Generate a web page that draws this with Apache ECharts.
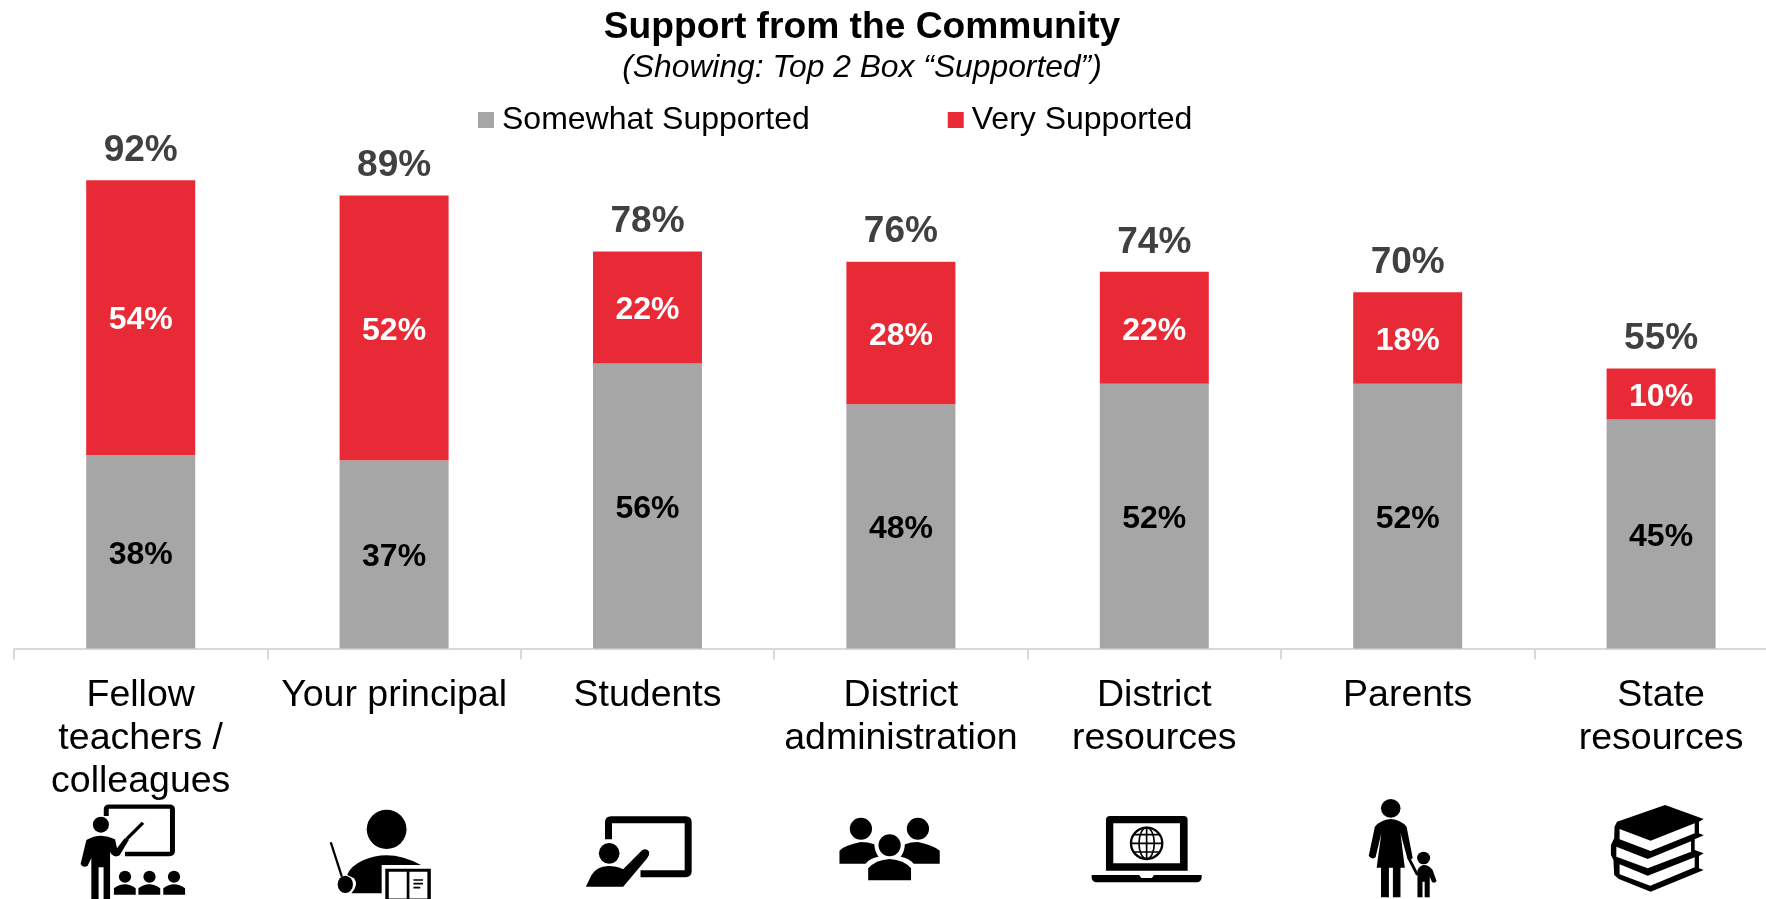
<!DOCTYPE html>
<html>
<head>
<meta charset="utf-8">
<title>Support from the Community</title>
<script src="https://cdn.jsdelivr.net/npm/echarts@6/dist/echarts.min.js"></script>
<style>
  html, body { margin: 0; padding: 0; background: #fff; overflow: hidden; }
  #chart { width: 1766px; height: 899px; }
</style>
</head>
<body>
<div id="chart"></div>
<script>
const categories = ['Fellow\nteachers /\ncolleagues', 'Your principal', 'Students', 'District\nadministration', 'District\nresources', 'Parents', 'State\nresources'];
const somewhatSupported = [38, 37, 56, 48, 52, 52, 45];
const verySupported = [54, 52, 22, 28, 22, 18, 10];
const topTwoBox = [92, 89, 78, 76, 74, 70, 55];

const FONT = '"Liberation Sans", Arial, sans-serif';
const GREY = '#A6A6A6';
const RED = '#E82A36';

// Outline helpers for the pictograms under each category.
const ell = (cx, cy, rx, ry) =>
  `M${cx - rx},${cy} A${rx},${ry} 0 1 0 ${cx + rx},${cy} A${rx},${ry} 0 1 0 ${cx - rx},${cy} Z`;
const solid = d => ({ d, fill: '#000' });
const blank = d => ({ d, fill: '#fff' });
const line = (d, w) => ({ d, stroke: '#000', w });

// Each pictogram has its own drawing units: sx/sy per pixel, top at y, centred on its category at cx.
const pictograms = [
  { cx: 367, y: 780, sx: 2.613, sy: 3, parts: [
    line('M277,108 L277,88 Q277,80 285,80 L442,80 Q450,80 450,88 L450,214 Q450,222 442,222 L326,222', 13),
    solid(ell(263, 134, 21, 24)),
    solid('M225,180 Q262,155 300,178 L305,205 L325,175 L336,180 L312,226 Q300,234 290,222 L287,215 L287,357 L270,357 L270,262 L257,262 L257,357 L238,357 L238,235 L228,258 Q215,265 210,252 Z'),
    line('M330,178 L373,128', 9),
    solid(ell(326, 290, 16, 18)), solid(ell(390, 290, 16, 18)), solid(ell(454, 290, 16, 18)),
    solid('M297,344 L297,325 Q325,300 354,325 L354,344 Z'),
    solid('M361,344 L361,325 Q389,300 418,325 L418,344 Z'),
    solid('M426,344 L426,325 Q454,300 483,325 L483,344 Z')
  ]},
  { cx: 1029.5, y: 780, sx: 2.613, sy: 3, parts: [
    solid(ell(1010, 148, 52, 59)),
    solid('M907,285 Q915,258 950,240 Q1020,205 1100,255 L997,255 L997,340 L918,340 Q938,315 925,295 Z'),
    line('M864,187 L893,290', 6),
    solid(ell(902, 313, 20, 26)),
    line('M1011,271 L1121,271 L1121,360 L1011,360 Z', 9),
    line('M1066,271 L1066,360', 7),
    line('M1080,300 L1105,300 M1080,311 L1105,311 M1080,323 L1098,323', 5)
  ]},
  { cx: 233, y: 800, sx: 3, sy: 3, parts: [
    line('M116,118 L116,67 Q116,59 124,59 L347,59 Q355,59 355,67 L355,213 Q355,221 347,221 L212,221', 21),
    solid(ell(118, 160, 31, 31)),
    solid('M48,260 L65,225 Q80,200 115,198 Q140,198 160,208 L215,152 Q228,142 238,155 Q240,165 232,175 L160,260 Z')
  ]},
  { cx: 786.5, y: 780, sx: 2.613, sy: 3, parts: [
    solid(ell(682, 146, 29, 33)), solid(ell(831, 146, 29, 33)), solid(ell(757, 196, 29, 33)),
    solid('M626,251 L626,212 Q640,195 682,186 Q700,186 717,193 Q718,215 728,230 Q705,235 694,251 Z'),
    solid('M888,251 L888,212 Q870,195 831,186 Q812,186 797,193 Q796,215 786,230 Q808,235 820,251 Z'),
    solid('M701,301 L701,265 Q720,240 757,237 Q795,240 813,265 L813,301 Z')
  ]},
  { cx: 223, y: 800, sx: 3, sy: 3, parts: [
    solid('M78,212 L78,60 Q78,48 90,48 L311,48 Q323,48 323,60 L323,212 Z'),
    blank('M100,70 L300,70 L300,190 L100,190 Z'),
    solid('M35,225 L178,225 L184,234 L216,234 L222,225 L365,225 L365,235 Q362,247 350,247 L50,247 Q38,247 35,235 Z'),
    line(ell(200, 130, 47, 47), 7),
    line(ell(200, 130, 23, 47), 5),
    line('M200,83 L200,177 M153,130 L247,130 M162,104 L238,104 M162,156 L238,156', 5)
  ]},
  { cx: 576, y: 780, sx: 2.77, sy: 3, parts: [
    solid(ell(529, 85, 27, 28)),
    solid('M485,140 Q500,120 529,117 Q558,120 573,140 L590,235 Q585,240 575,235 L556,160 L568,263 L556,263 L556,352 L535,352 L535,263 L524,263 L524,352 L502,352 L502,263 L490,263 L503,160 L487,232 Q478,240 468,228 Z'),
    solid(ell(620, 234, 18, 19)),
    line('M578,232 L603,285', 8),
    solid('M603,270 Q610,256 620,255 Q635,255 645,270 L656,303 Q650,312 643,305 L637,290 L637,352 L623,352 L623,305 L617,305 L617,352 L603,352 Z')
  ]},
  { cx: 1277, y: 780, sx: 2.77, sy: 3, parts: [
    solid('M1155,125 L1288,75 L1395,117 L1382,125 L1382,160 L1395,166 L1370,178 L1370,210 L1395,220 L1382,228 L1382,265 L1395,270 L1248,335 L1160,297 L1147,285 L1145,240 L1138,225 L1138,195 L1147,175 L1148,140 Z'),
    blank('M1162,147 L1248,182 L1370,130 L1370,160 L1248,213 L1162,178 Z'),
    blank('M1153,200 L1240,237 L1360,184 L1360,215 L1240,265 L1153,230 Z'),
    blank('M1162,253 L1240,287 L1370,232 L1370,262 L1247,317 L1162,283 Z')
  ]}
];

const chart = echarts.init(document.getElementById('chart'), null, { renderer: 'canvas' });

const segmentLabel = color => ({
  show: true,
  position: 'inside',
  offset: [0, 3],
  formatter: '{c}%',
  color,
  fontFamily: FONT,
  fontSize: 32,
  fontWeight: 'bold'
});

chart.setOption({
  animation: false,
  backgroundColor: '#fff',
  title: {
    text: 'Support from the Community',
    subtext: '(Showing: Top 2 Box \u201cSupported\u201d)',
    left: 857,
    top: 2,
    textAlign: 'center',
    itemGap: 1,
    textStyle: { fontFamily: FONT, fontSize: 37.2, fontWeight: 'bold', color: '#000', lineHeight: 42 },
    subtextStyle: { fontFamily: FONT, fontSize: 31.8, fontStyle: 'italic', color: '#000', lineHeight: 36 }
  },
  legend: {
    data: ['Somewhat Supported', 'Very Supported'],
    left: 478,
    top: 102,
    padding: 0,
    icon: 'rect',
    itemWidth: 16,
    itemHeight: 16,
    itemGap: 138,
    textStyle: { fontFamily: FONT, fontSize: 32, color: '#000', lineHeight: 36, padding: [0, 0, 0, 3] }
  },
  grid: { left: 14, top: 139.5, width: 1773.8, height: 509, outerBoundsMode: 'none' },
  xAxis: {
    type: 'category',
    data: categories,
    axisLine: { lineStyle: { color: '#D9D9D9', width: 2 } },
    axisTick: { show: true, length: 11, lineStyle: { color: '#D9D9D9', width: 2 } },
    axisLabel: {
      interval: 0,
      margin: 26,
      fontFamily: FONT,
      fontSize: 37.5,
      lineHeight: 43,
      color: '#000',
      verticalAlign: 'top'
    }
  },
  yAxis: { type: 'value', min: 0, max: 100, show: false },
  series: [
    {
      name: 'Somewhat Supported',
      type: 'bar',
      stack: 'support',
      barWidth: 109,
      data: somewhatSupported,
      itemStyle: { color: GREY },
      label: segmentLabel('#000')
    },
    {
      name: 'Very Supported',
      type: 'bar',
      stack: 'support',
      barWidth: 109,
      data: verySupported,
      itemStyle: { color: RED },
      label: segmentLabel('#fff')
    },
    {
      // Invisible line that only carries the combined total above each stack.
      name: 'Top 2 Box',
      type: 'line',
      data: topTwoBox,
      symbol: 'circle',
      symbolSize: 1,
      showAllSymbol: true,
      itemStyle: { color: 'transparent' },
      lineStyle: { opacity: 0 },
      label: {
        show: true,
        position: 'top',
        distance: 10.5,
        formatter: '{c}%',
        color: '#404040',
        fontFamily: FONT,
        fontSize: 37,
        fontWeight: 'bold'
      }
    },
    {
      // Pictograms below the axis labels, anchored on each category's axis position.
      name: 'Pictograms',
      type: 'custom',
      silent: true,
      data: categories.map((c, i) => [i, 0]),
      encode: { x: 0, y: 1 },
      renderItem: (params, api) => {
        const icon = pictograms[params.dataIndex];
        return {
          type: 'group',
          x: api.coord([api.value(0), 0])[0] - icon.cx / icon.sx,
          y: icon.y,
          scaleX: 1 / icon.sx,
          scaleY: 1 / icon.sy,
          children: icon.parts.map(p => ({
            type: 'path',
            shape: { pathData: p.d },
            style: { fill: p.fill || 'none', stroke: p.stroke || 'none', lineWidth: p.w || 0 }
          }))
        };
      }
    }
  ]
});
</script>
</body>
</html>
